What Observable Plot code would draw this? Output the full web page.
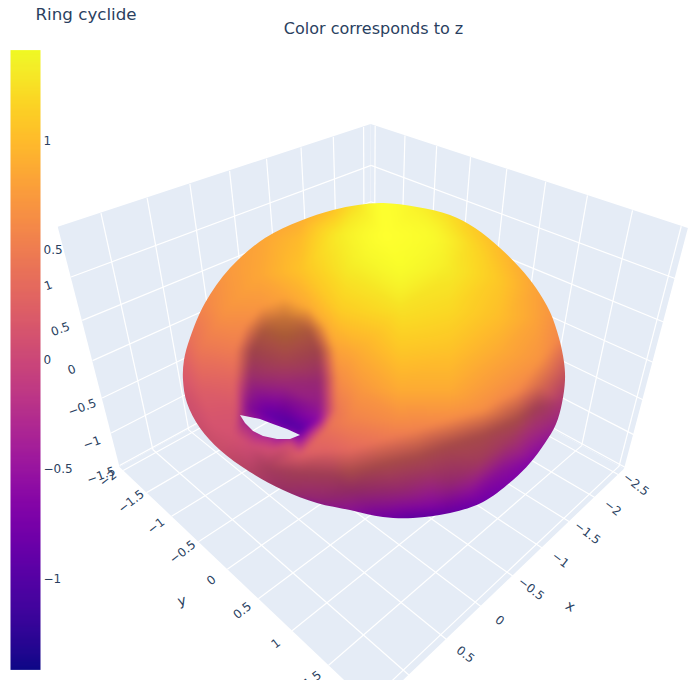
<!DOCTYPE html>
<html>
<head>
<meta charset="utf-8">
<style>html,body{margin:0;padding:0;background:#fff;}svg{display:block;}</style>
<script src="https://cdn.jsdelivr.net/npm/d3@7"></script>
<script src="https://cdn.jsdelivr.net/npm/@observablehq/plot@0.6"></script>
</head>
<body>
<div id="chart"></div>
<script>
// ---------- chart values ----------
const titleText = "Ring cyclide";
const subtitleText = "Color corresponds to z";
const xRange = [-2.63, 1.43];
const yRange = [-2.07, 2.07];
const zRange = [-1.53, 1.53];
const xTicks = [-2.5, -2, -1.5, -1, -0.5, 0, 0.5, 1];
const yTicks = [-2, -1.5, -1, -0.5, 0, 0.5, 1, 1.5, 2];
const zTicks = [-1.5, -1, -0.5, 0, 0.5, 1];
const colorbarTicks = [-1, -0.5, 0, 0.5, 1];
const colorDomain = [-1.415, 1.415];

// camera calibration: axis values and where they were read in the picture
const calibWorld = [
  [1,-2.07,1],[0.5,-2.07,1],[0,-2.07,1],[-1,-2.07,1],[-2,-2.07,1],[1,-2.07,-1],[1,-2.07,0],
  [1,-1.5,-1.53],[1,1,-1.53],[0.5,-1,-1.53],[0.5,0.5,-1.53],
  [-2,2.07,-1.53],[0,2.07,-1.53],[1,2.07,-1.53],
  [-2.63,-1.5,1],[-2.63,0,1],[-2.63,1,1],[-2.63,2,1],
  [1.43,-2.07,1.53],[-2.63,-2.07,1.53],[-2.63,2.07,1.53],[1.43,-2.07,-1.53],[-2.63,2.07,-1.53]
];
const calibPicture = [
  [110,260],[155,245],[195,229],[269,202],[333,178],[145,417],[128,340],
  [179,473],[327,603],[241,473],[330,545],
  [592,496],[479,606],[408,675],
  [403,177],[502,213],[579,242],[670,276],
  [60,227],[371,126],[687,230],[122,468],[626,467]
];

// surface silhouette and hole
const outerOutline = [
  [383,203],[417,207],[450,215],[475,228],[500,248],[520,268],[536,288],[550,312],[559,338],[564,362],[565,380],[562,403],
  [556,424],[545,443],[530,463],[513,480],[483,502],[450,513],[413,518],[383,517],[350,510],[317,503],[283,490],[250,472],
  [220,450],[200,428],[187,403],[183,380],[184,360],[190,338],[205,303],[230,268],[265,238],[300,221],[333,210],[358,205]
];
const holeOutline = [
  [240,415],[245,423],[253,431],[263,436],[277,439],[290,439],[300,435],[287,429],[273,424],[260,419],[250,417]
];

// surface samples: [px, py, z colour, shadow, highlight]
const rimSamples = [
  [383,203,1.41,0,.9],[358,205,1.25,0,.1],[333,210,1.05,0,0],[300,221,.9,0,0],[265,238,.85,0,0],[230,268,.75,0,0],[205,303,.6,0,0],
  [190,338,.4,0,0],[184,360,.25,0,0],[183,380,.15,0,0],[187,403,.1,.03,0],[200,428,.1,.05,0],[220,450,.1,.06,0],[250,472,.05,.14,0],
  [283,490,-.1,.22,0],[317,503,-.3,.18,0],[350,510,-.5,.1,0],[383,517,-.75,.05,0],[413,518,-.9,.05,0],[450,513,-.85,.03,0],[483,502,-.8,0,0],
  [513,480,-.7,0,0],[530,463,-.65,0,0],[545,443,-.5,.05,0],[556,424,-.3,.1,0],[562,403,-.1,.12,0],[565,380,.15,.12,0],[559,338,.6,0,0],[550,312,.72,0,0],
  [536,288,.82,0,0],[520,268,.9,0,0],[500,248,1,0,0],[475,228,1.1,0,0],[450,215,1.2,0,.1],[417,207,1.3,0,.4]
];
const topSamples = [
  [300,240,1,0,0],[340,235,1.3,0,.2],[385,235,1.41,0,.95],[430,235,1.38,0,.6],[470,245,1.2,0,.05],
  [260,275,.85,0,0],[300,270,1.05,0,0],[350,265,1.32,0,.1],[400,265,1.41,0,.6],[450,270,1.3,0,.1],[500,280,1.08,0,0],
  [225,310,.7,0,0],[340,310,1.12,0,0],[400,310,1.25,0,0],[450,310,1.2,0,0],[500,315,1.02,0,0],[535,320,.82,0,0]
];
const bodySamples = [
  [200,350,.45,0,0],[360,350,.9,0,0],[400,350,1.08,0,0],[450,350,1.05,0,0],[500,350,.88,0,0],[540,360,.7,0,0],
  [200,390,.22,0,0],[360,390,.72,0,0],[400,390,.88,0,0],[450,390,.88,0,0],[500,385,.72,0,0],[540,385,.45,.08,0],
  [212,425,.12,0,0],[350,420,.55,0,0],[400,420,.65,0,0],[450,410,.72,0,0],[500,400,.62,0,0],
  [350,450,.33,0,0],[383,440,.45,0,0],[417,430,.55,0,0],[450,420,.62,0,0],[483,410,.65,0,0],[517,392,.6,0,0],
  [235,435,.1,0,0],[250,445,.05,0,0],[270,450,.08,0,0],[300,455,.22,0,0],[330,450,.28,0,0],[290,445,.1,0,0]
];
const shadowSamples = [
  [350,472,.25,.25,0],[383,464,.28,.26,0],[417,457,.28,.26,0],[450,445,.28,.26,0],[483,435,.28,.26,0],[517,420,.28,.26,0],[537,407,.12,.24,0],
  [267,468,.05,.2,0],[300,473,.1,.24,0],[333,475,.1,.25,0],[350,490,-.12,.25,0],
  [400,490,-.2,.2,0],[450,482,-.2,.2,0],[430,470,.02,.22,0],[480,460,.05,.22,0],[510,440,0,.2,0],[530,430,-.15,.14,0],
  [400,510,-.65,.06,0],[430,507,-.65,.04,0],[470,493,-.55,.06,0],[500,470,-.5,.08,0]
];
const holeSamples = [
  [236,410,.15,0,0],[235,380,.3,0,0],[236,350,.5,0,0],[246,325,.62,0,0],[262,307,.72,0,0],[285,298,.82,0,0],[308,307,.88,0,0],[325,325,.88,0,0],
  [335,350,.8,0,0],[337,380,.62,0,0],[336,410,.45,0,0],[325,430,.38,0,0],
  [248,408,-.55,.1,0],[250,380,-.2,.18,0],[252,352,.2,.28,0],[262,332,.45,.28,0],[272,322,.6,.22,0],[285,318,.65,.2,0],
  [298,322,.6,.22,0],[310,332,.45,.28,0],[318,352,.2,.28,0],[320,380,-.2,.18,0],[320,405,-.4,.1,0],
  [270,415,-.9,0,0],[290,425,-1,0,0],[300,430,-1,0,0],[318,420,-.6,0,0],
  [285,405,-.65,.1,0],[285,385,-.25,.15,0],[285,360,.2,.25,0],[285,335,.55,.3,0]
];
const surfaceSamples = [...rimSamples, ...topSamples, ...bodySamples, ...shadowSamples, ...holeSamples];

// ---------- camera: least-squares fit from the calibration pairs ----------
function solve(A, b) {
  const n = b.length, M = A.map((r, i) => [...r, b[i]]);
  for (let c = 0; c < n; c++) {
    let p = c;
    for (let r = c + 1; r < n; r++) if (Math.abs(M[r][c]) > Math.abs(M[p][c])) p = r;
    [M[c], M[p]] = [M[p], M[c]];
    for (let r = 0; r < n; r++) {
      if (r === c) continue;
      const f = M[r][c] / M[c][c];
      for (let k = c; k <= n; k++) M[r][k] -= f * M[c][k];
    }
  }
  return M.map((r, i) => r[n] / r[i]);
}
const camera = (() => {
  const rows = [], rhs = [];
  calibWorld.forEach(([X, Y, Z], i) => {
    const u = calibPicture[i][0] / 700, v = calibPicture[i][1] / 700;
    rows.push([X, Y, Z, 1, 0, 0, 0, 0, -u * X, -u * Y, -u * Z]); rhs.push(u);
    rows.push([0, 0, 0, 0, X, Y, Z, 1, -v * X, -v * Y, -v * Z]); rhs.push(v);
  });
  const N = Array.from({length: 11}, (_, i) => Array.from({length: 11}, (_, j) => d3.sum(rows, r => r[i] * r[j])));
  const t = Array.from({length: 11}, (_, i) => d3.sum(rows, (r, k) => r[i] * rhs[k]));
  return solve(N, t);
})();
function project([X, Y, Z]) {
  const p = camera, w = p[8] * X + p[9] * Y + p[10] * Z + 1;
  return [700 * (p[0] * X + p[1] * Y + p[2] * Z + p[3]) / w, 700 * (p[4] * X + p[5] * Y + p[6] * Z + p[7]) / w];
}

// ---------- derived tables ----------
const [x0, x1] = xRange, [y0, y1] = yRange, [z0, z1] = zRange;
const quad = (a, b, c, d) => [[a, d], [b, c]].map(([s, e]) => {
  const P = project(s), Q = project(e);
  return {ax: P[0], ay: P[1], bx: Q[0], by: Q[1]};
});
const leftWall = quad([x1, y0, z1], [x0, y0, z1], [x0, y0, z0], [x1, y0, z0]);
const rightWall = quad([x0, y0, z1], [x0, y1, z1], [x0, y1, z0], [x0, y0, z0]);
const floorPlane = quad([x1, y0, z0], [x0, y0, z0], [x0, y1, z0], [x1, y1, z0]);
const seg = (a, b) => { const P = project(a), Q = project(b); return {ax: P[0], ay: P[1], bx: Q[0], by: Q[1]}; };
const gridSegs = [
  ...xTicks.flatMap(x => [seg([x, y0, z0], [x, y0, z1]), seg([x, y0, z0], [x, y1, z0])]),
  ...yTicks.flatMap(y => [seg([x0, y, z0], [x0, y, z1]), seg([x0, y, z0], [x1, y, z0])]),
  ...zTicks.flatMap(z => [seg([x1, y0, z], [x0, y0, z]), seg([x0, y0, z], [x0, y1, z])])
];
const fmt = v => String(v).replace("-", "\u2212");
const label = (text, world) => { const [px, py] = project(world); return {text, px, py}; };
const xLabels = xTicks.filter(x => x < 1).map(x => label(fmt(x), [x, y1 + 0.22, z0]));
const yLabels = yTicks.filter(y => y < 2).map(y => label(fmt(y), [x1 + 0.19, y, z0]));
const zLabels = zTicks.map(z => label(fmt(z), [x1 + 0.23, y0, z]));
const xName = [label("x", [(x0 + x1) / 2, y1 + 0.6, z0])];
const yName = [label("y", [x1 + 0.53, 0, z0])];
const samples = surfaceSamples.map(([px, py, z, s, g]) => ({px, py, z, s, g}));

// colour-bar placement on the page
const barY = z => 359.5 - 219 * z;
const W = 700, H = 680, ink = "#2a3f5f", face = "'DejaVu Sans', Verdana, sans-serif";
const wall = rows => Plot.area(rows, {x1: "ax", y1: "ay", x2: "bx", y2: "by", fill: "#e5ecf6"});
const tickText = (rows, rotate) => Plot.text(rows, {x: "px", y: "py", text: "text", rotate, fontSize: 12, fill: ink, fontFamily: face});

const plot = Plot.plot({
  width: W, height: H, margin: 0,
  style: {background: "#fff", overflow: "hidden"},
  x: {domain: [0, W], range: [0, W], axis: null},
  y: {domain: [0, H], range: [0, H], axis: null},
  color: {type: "linear", scheme: "plasma", domain: colorDomain},
  opacity: {domain: [0, 1], range: [0, 1]},
  marks: [
    wall(leftWall), wall(rightWall), wall(floorPlane),
    Plot.link(gridSegs, {x1: "ax", y1: "ay", x2: "bx", y2: "by", stroke: "#fff", strokeWidth: 1.2}),
    Plot.raster(samples, {x: "px", y: "py", fill: "z", interpolate: "barycentric", pixelSize: 1}),
    Plot.raster(samples, {x: "px", y: "py", fill: "black", fillOpacity: "s", interpolate: "barycentric", pixelSize: 1}),
    Plot.raster(samples, {x: "px", y: "py", fill: "#ffff30", fillOpacity: "g", interpolate: "barycentric", pixelSize: 1}),
    Plot.raster({
      x1: 10, x2: 40, y1: barY(colorDomain[1]), y2: barY(colorDomain[0]), width: 1, height: 310,
      fill: (x, y) => (359.5 - y) / 219, imageRendering: "auto"
    }),
    tickText(xLabels, 38), tickText(yLabels, -38), tickText(zLabels, -20),
    Plot.text(xName, {x: "px", y: "py", text: "text", rotate: 30, fontSize: 14, fill: ink, fontFamily: face}),
    Plot.text(yName, {x: "px", y: "py", text: "text", rotate: -15, fontSize: 14, fill: ink, fontFamily: face}),
    Plot.text(colorbarTicks, {x: () => 43, y: barY, text: fmt, textAnchor: "start", fontSize: 12, fill: ink, fontFamily: face}),
    Plot.text([titleText], {x: () => 35, y: () => 14, text: d => d, textAnchor: "start", fontSize: 16.7, fill: ink, fontFamily: face}),
    Plot.text([subtitleText], {x: () => 373, y: () => 28, text: d => d, fontSize: 16, fill: ink, fontFamily: face})
  ]
});
document.getElementById("chart").append(plot);

// clip the three surface layers to the silhouette, with the hole cut out
const ns = "http://www.w3.org/2000/svg";
const images = Array.from(plot.querySelectorAll("image")).slice(0, 3);
const smooth = d3.line().curve(d3.curveCatmullRomClosed);
const sharp = d3.line();
const defs = document.createElementNS(ns, "defs");
const clip = document.createElementNS(ns, "clipPath");
clip.setAttribute("id", "surface-clip");
const clipShape = document.createElementNS(ns, "path");
clipShape.setAttribute("d", smooth(outerOutline) + sharp(holeOutline) + "Z");
clipShape.setAttribute("clip-rule", "evenodd");
clip.append(clipShape); defs.append(clip); plot.append(defs);
const outer = document.createElementNS(ns, "g");
outer.setAttribute("clip-path", "url(#surface-clip)");
const inner = document.createElementNS(ns, "g");
inner.setAttribute("style", "filter:blur(3px)");
images.forEach(im => inner.append(im));
outer.append(inner); plot.append(outer);
</script>
</body>
</html>
